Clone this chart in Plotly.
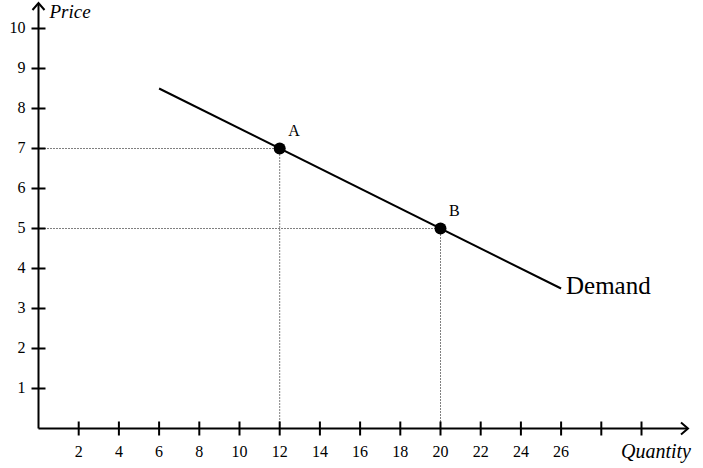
import plotly.graph_objects as go

# ---- data ----
x_ticks = [2, 4, 6, 8, 10, 12, 14, 16, 18, 20, 22, 24, 26, 28, 30]
x_tick_labels = ["2", "4", "6", "8", "10", "12", "14", "16", "18", "20", "22", "24", "26", "", ""]
y_ticks = [1, 2, 3, 4, 5, 6, 7, 8, 9, 10]
y_tick_labels = ["1", "2", "3", "4", "5", "6", "7", "8", "9", "10"]
demand_q = [6, 26]
demand_p = [8.5, 3.5]
points_q = [12, 20]
points_p = [7, 5]
point_labels = ["A", "B"]

# ---- geometry (pixel scale) ----
W, H = 703, 468
ox, oy = 38.5, 428.5          # origin pixel
sx, sy = 20.1, 40.0           # px per unit
xr = [-ox / sx, (W - ox) / sx]
yr = [-(H - oy) / sy, oy / sy]
px_x = lambda p: p / sx
px_y = lambda p: p / sy

x_end = (688 - ox) / sx
y_end = (oy - 3) / sy

FONT = "Liberation Serif, Times New Roman, serif"
BLACK = "#000000"

fig = go.Figure()

# axes lines with arrows
ax_x, ax_y = [], []
ax_x += [0, x_end, None, x_end - px_x(7), x_end, x_end - px_x(7), None]
ax_y += [0, 0, None, px_y(6), 0, -px_y(6), None]
ax_x += [0, 0, None, -px_x(6), 0, px_x(6), None]
ax_y += [0, y_end, None, y_end - px_y(7), y_end, y_end - px_y(7), None]
fig.add_trace(go.Scatter(x=ax_x, y=ax_y, mode="lines",
                         line=dict(color=BLACK, width=2), hoverinfo="skip"))

# tick marks
tx, ty = [], []
for t in x_ticks:
    tx += [t, t, None]
    ty += [-px_y(7), px_y(7), None]
for t in y_ticks:
    tx += [-px_x(7), px_x(7), None]
    ty += [t, t, None]
fig.add_trace(go.Scatter(x=tx, y=ty, mode="lines",
                         line=dict(color=BLACK, width=2), hoverinfo="skip"))

# tick labels
fig.add_trace(go.Scatter(x=x_ticks, y=[-px_y(24)] * len(x_ticks), mode="text",
                         text=x_tick_labels, textposition="middle center",
                         textfont=dict(family=FONT, size=16, color=BLACK),
                         hoverinfo="skip"))
fig.add_trace(go.Scatter(x=[-px_x(13)] * len(y_ticks), y=y_ticks, mode="text",
                         text=y_tick_labels, textposition="middle left",
                         textfont=dict(family=FONT, size=16, color=BLACK),
                         hoverinfo="skip"))

# dotted guides
gx, gy = [], []
for q, p in zip(points_q, points_p):
    gx += [0, q, None, q, q, None]
    gy += [p, p, None, p, 0, None]
fig.add_trace(go.Scatter(x=gx, y=gy, mode="lines",
                         line=dict(color=BLACK, width=1, dash="1px,2px"), hoverinfo="skip"))

# demand line
fig.add_trace(go.Scatter(x=demand_q, y=demand_p, mode="lines",
                         line=dict(color=BLACK, width=2), hoverinfo="skip"))

# points
fig.add_trace(go.Scatter(x=points_q, y=points_p, mode="markers+text",
                         marker=dict(color=BLACK, size=12),
                         text=point_labels, textposition="top right",
                         textfont=dict(family=FONT, size=16, color=BLACK),
                         hoverinfo="skip"))

# axis titles / demand label
fig.add_trace(go.Scatter(x=[px_x(11)], y=[(oy - 13) / sy], mode="text",
                         text=["Price"], textposition="middle right",
                         textfont=dict(family=FONT, size=19, color=BLACK, style="italic"),
                         hoverinfo="skip"))
fig.add_trace(go.Scatter(x=[(691 - ox) / sx], y=[-px_y(24)], mode="text",
                         text=["Quantity"], textposition="middle left",
                         textfont=dict(family=FONT, size=20, color=BLACK, style="italic"),
                         hoverinfo="skip"))
fig.add_trace(go.Scatter(x=[(566 - ox) / sx], y=[demand_p[-1] + px_y(1)], mode="text",
                         text=["Demand"], textposition="middle right",
                         textfont=dict(family=FONT, size=25, color=BLACK),
                         hoverinfo="skip"))

fig.update_layout(
    width=W, height=H,
    margin=dict(l=0, r=0, t=0, b=0),
    paper_bgcolor="white", plot_bgcolor="white",
    showlegend=False,
    xaxis=dict(range=xr, visible=False, fixedrange=True),
    yaxis=dict(range=yr, visible=False, fixedrange=True),
)

fig.write_html("out.html", config={"displayModeBar": False},
               post_script="document.body.style.margin='0';")
